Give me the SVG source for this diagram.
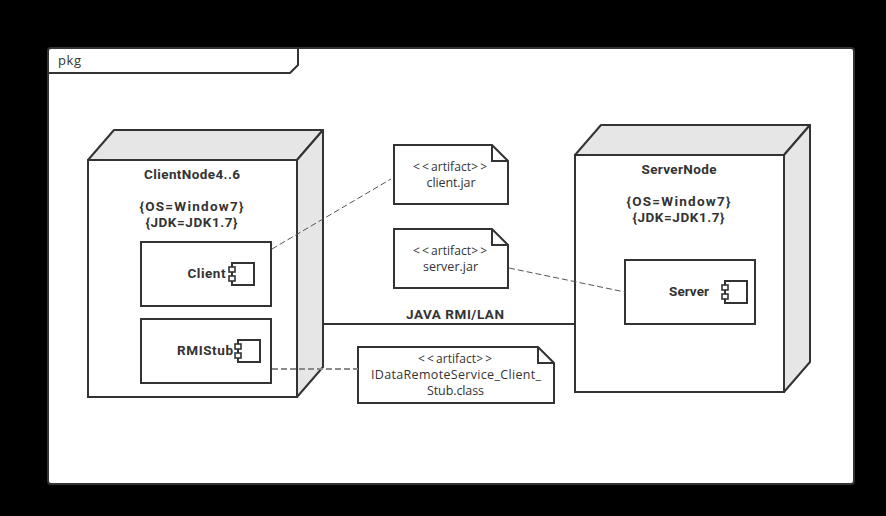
<svg xmlns="http://www.w3.org/2000/svg" width="886" height="516" viewBox="0 0 886 516">
<style>
text{font-family:"Open Sans","Noto Sans","Liberation Sans",sans-serif;fill:#333;font-size:12.5px;text-anchor:middle}
.b{font-family:Roboto,"Liberation Sans",sans-serif;font-weight:700;font-size:13.500px}
.a{font-size:12px}
.s{fill:none;stroke:#333;stroke-width:2}
.w{fill:#fff;stroke:#333;stroke-width:2}
.g{fill:#e6e6e6;stroke:#333;stroke-width:2;stroke-linejoin:round}
.d{fill:none;stroke:#555;stroke-width:1;stroke-dasharray:6 3}
</style>
<defs>
<g id="icon"><rect class="w" x="3" y="0" width="22" height="22"/><rect x="0" y="4" width="6" height="5" fill="#fff" stroke="#333" stroke-width="1.6"/><rect x="0" y="13" width="6" height="5" fill="#fff" stroke="#333" stroke-width="1.6"/></g>
</defs>
<rect x="0" y="0" width="886" height="516" fill="#000"/>
<g id="frame">
<rect class="w" x="48" y="48" width="806" height="436" rx="3"/>
<path class="s" d="M48 73H290L298 65V48"/>
<text x="69.500" y="65" textLength="23" style="font-size:13px">pkg</text>
</g>
<g id="clientNode">
<path class="g" d="M88 160L114 130H323L297 160Z"/>
<path class="g" d="M297 160L323 130V367L297 397Z"/>
<rect class="w" x="88" y="160" width="209" height="237"/>
<text class="b" x="192" y="179" textLength="96">ClientNode4..6</text>
<text class="b" x="191.500" y="211" textLength="104">{OS=Window7}</text>
<text class="b" x="191.500" y="227" textLength="92">{JDK=JDK1.7}</text>
</g>
<g id="client">
<rect class="w" x="141" y="242" width="130" height="64"/>
<text class="b" x="206.500" y="278" textLength="38">Client</text>
<use href="#icon" x="229" y="263"/>
</g>
<g id="rmiStub">
<rect class="w" x="141" y="319" width="130" height="64"/>
<text class="b" x="205" y="355" textLength="56">RMIStub</text>
<use href="#icon" x="235" y="340"/>
</g>
<g id="serverNode">
<path class="g" d="M575 155L601 125H810L784 155Z"/>
<path class="g" d="M784 155L810 125V362L784 392Z"/>
<rect class="w" x="575" y="155" width="209" height="237"/>
<text class="b" x="679" y="174" textLength="75">ServerNode</text>
<text class="b" x="678.500" y="206" textLength="104">{OS=Window7}</text>
<text class="b" x="678.500" y="222" textLength="92">{JDK=JDK1.7}</text>
</g>
<g id="server">
<rect class="w" x="625" y="260" width="130" height="64"/>
<text class="b" x="689" y="296" textLength="40">Server</text>
<use href="#icon" x="722" y="281"/>
</g>
<g id="clientJar">
<path class="w" d="M394 145H492L508 161V204H394Z"/>
<path class="s" d="M492 145V161H508"/>
<text class="a" x="451" y="171" textLength="76"><tspan letter-spacing="2">&lt;&lt;</tspan>artifact<tspan letter-spacing="2">&gt;&gt;</tspan></text>
<text x="451" y="187" textLength="49">client.jar</text>
</g>
<g id="serverJar">
<path class="w" d="M394 229H492L508 245V288H394Z"/>
<path class="s" d="M492 229V245H508"/>
<text class="a" x="451" y="255" textLength="76"><tspan letter-spacing="2">&lt;&lt;</tspan>artifact<tspan letter-spacing="2">&gt;&gt;</tspan></text>
<text x="450.500" y="271" textLength="55">server.jar</text>
</g>
<g id="stubClass">
<path class="w" d="M358 347H538L554 363V403H358Z"/>
<path class="s" d="M538 347V363H554"/>
<text class="a" x="456" y="363" textLength="76"><tspan letter-spacing="2">&lt;&lt;</tspan>artifact<tspan letter-spacing="2">&gt;&gt;</tspan></text>
<text x="456" y="379" textLength="170">IDataRemoteService_Client_</text>
<text x="455.500" y="395" textLength="57">Stub.class</text>
</g>
<g id="connectors">
<path class="d" d="M272 249L391 179"/>
<path class="d" d="M509 268L625 292"/>
<path d="M272 369H358" fill="none" stroke="#8a8a8a" stroke-width="2" stroke-dasharray="6 3"/>
<path class="s" d="M323 324H575"/>
<text class="b" x="455" y="319" textLength="98">JAVA RMI/LAN</text>
</g>
</svg>
